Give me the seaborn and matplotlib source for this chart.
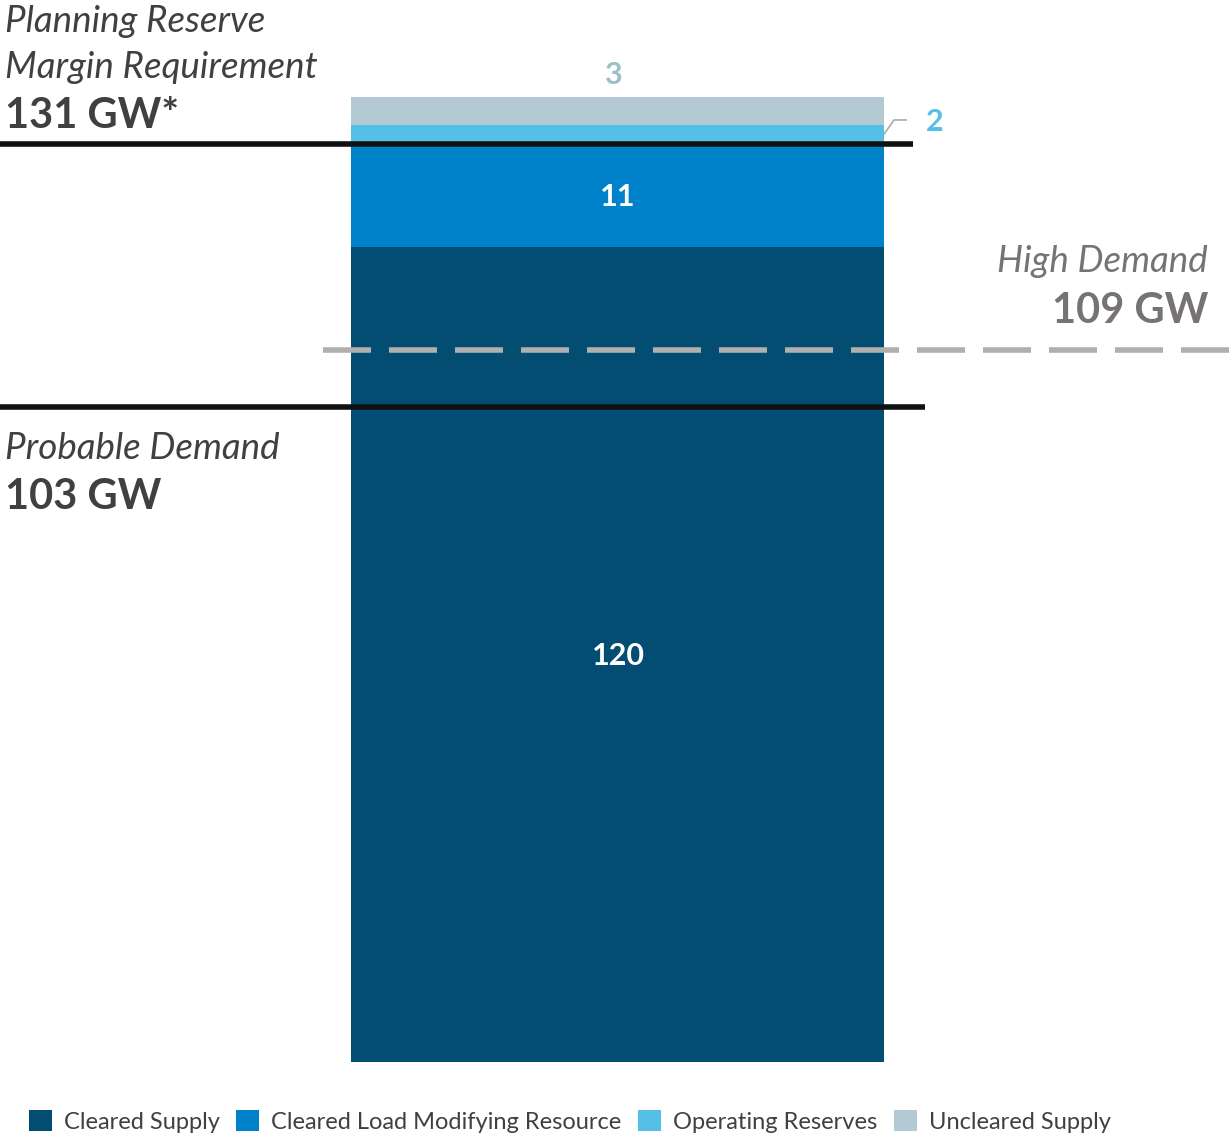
import matplotlib
matplotlib.use("Agg")
import matplotlib.pyplot as plt
from matplotlib.patches import Patch
import seaborn as sns
import pandas as pd

# ---- data ----
categories = ["Cleared Supply", "Cleared Load Modifying Resource",
              "Operating Reserves", "Uncleared Supply"]
values = [120, 11, 2, 3]
colors = ["#034c72", "#0082ca", "#55c0e7", "#b3cad5"]
bar_name = "Capacity"

prmr_value = 131
prmr_title = ["Planning Reserve", "Margin Requirement"]
prmr_label = "131 GW*"
probable_value = 103
probable_title = "Probable Demand"
probable_label = "103 GW"
high_value = 109
high_title = "High Demand"
high_label = "109 GW"

# ---- layout constants ----
W, H = 1230, 1139
DPI = 100
y_low, y_high = 33.2, 146.3
bar_width = 0.8

sns.set_theme(style="white")
plt.rcParams["font.family"] = ["Lato", "DejaVu Sans"]

fig = plt.figure(figsize=(W / DPI, H / DPI), dpi=DPI)
ax = fig.add_axes([0, 77 / H, 1, 1062 / H])

df = pd.DataFrame({"component": categories, "value": values})
df["top"] = df["value"].cumsum()
df["bar"] = bar_name

sns.barplot(data=df, x="bar", y="top", hue="component",
            hue_order=categories[::-1],
            palette=dict(zip(categories, colors)),
            dodge=False, width=bar_width, saturation=1, linewidth=0,
            legend=False, ax=ax)

px_per_unit = 666.25
ax.set_xlim(-617.5 / px_per_unit, (W - 617.5) / px_per_unit)
ax.set_ylim(y_low, y_high)
ax.set_axis_off()

# reference lines
LW = 4.0
ax.axhline(prmr_value, xmin=0, xmax=913 / W, color="#111111", lw=LW,
           solid_capstyle="butt", zorder=4)
ax.axhline(probable_value, xmin=0, xmax=925 / W, color="#111111", lw=LW,
           solid_capstyle="butt", zorder=4)
dl = ax.axhline(high_value, xmin=323 / W, xmax=1, color="#b1aeae", lw=LW, zorder=4)
dl.set_dashes((48 * 0.72 / LW, 18 * 0.72 / LW))
dl.set_dash_capstyle("butt")

TXT = "#404040"
GRAY = "#777373"
IT = 26.5
BD = 30

def ftext(x, base, s, **kw):
    fig.text(x / W, 1 - base / H, s, va="baseline", **kw)

ftext(5, 32, prmr_title[0], fontsize=IT, style="italic", color=TXT)
ftext(5, 78, prmr_title[1], fontsize=IT, style="italic", color=TXT)
ftext(5, 128, prmr_label, fontsize=BD, weight="bold", color=TXT)
ftext(5, 459, probable_title, fontsize=IT, style="italic", color=TXT)
ftext(5, 509, probable_label, fontsize=BD, weight="bold", color=TXT)
ftext(1208, 272, high_title, fontsize=IT, style="italic", color=GRAY, ha="right")
ftext(1208, 323, high_label, fontsize=BD, weight="bold", color=GRAY, ha="right")

# segment labels
tops = df["top"].tolist()
half_digit = 22 * 0.7165 / 2
mid0 = (y_low + tops[0]) / 2
ax.annotate(str(values[0]), xy=(0, mid0), xytext=(1, -half_digit),
            textcoords="offset points", ha="center", va="baseline",
            fontsize=22, weight="bold", color="white", zorder=5)
mid1 = (tops[0] + tops[1]) / 2
ax.annotate(str(values[1]), xy=(0, mid1), xytext=(0.5, -half_digit),
            textcoords="offset points", ha="center", va="baseline",
            fontsize=22, weight="bold", color="white", zorder=5)
ax.annotate(str(values[3]), xy=(0, tops[3]), xytext=(-3, 9.5),
            textcoords="offset points", ha="center", va="baseline",
            fontsize=22, weight="bold", color="#9dbfc6", zorder=5)
# Operating reserves label with leader line
mid2 = (tops[1] + tops[2]) / 2
edge = bar_width / 2
rise = 14.3 / 9.39
ax.plot([edge, edge + 10 / px_per_unit, edge + 23 / px_per_unit],
        [mid2, mid2 + rise, mid2 + rise], color="#aaaaaa", lw=1.2,
        solid_capstyle="butt", zorder=5)
ax.annotate(str(values[2]), xy=(edge, mid2), xytext=(51 * 0.72, 2.4),
            textcoords="offset points", ha="center", va="baseline",
            fontsize=22, weight="bold", color="#55c0e7", zorder=5)

# legend
handles = [Patch(facecolor=c, edgecolor="none") for c in colors]
fig.legend(handles, categories, loc="center left",
           bbox_to_anchor=(29 / W, 1 - 1121.5 / H), ncol=4, frameon=False,
           fontsize=17, handlelength=0.98, handleheight=0.98,
           handletextpad=0.5, columnspacing=0.7, borderaxespad=0,
           borderpad=0, labelcolor=TXT)

fig.savefig("out.png", dpi=DPI)
